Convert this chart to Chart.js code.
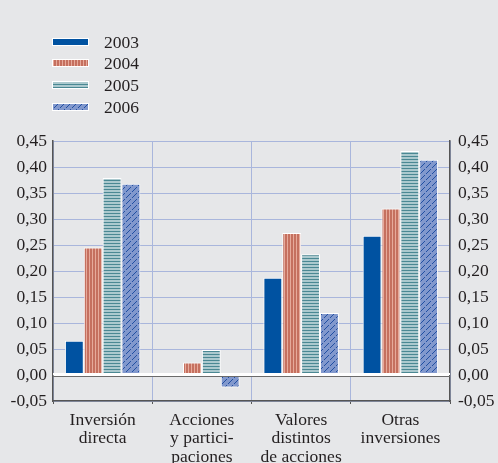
<!DOCTYPE html>
<html>
<head>
<meta charset="utf-8">
<script src="https://cdn.jsdelivr.net/npm/chart.js@4"></script>
<style>
  html, body { margin: 0; padding: 0; background: #e6e7e9; }
  canvas { display: block; }
</style>
</head>
<body>
<canvas id="myChart" width="498" height="463"></canvas>
<script>
// categories and series
const categories = [
  ['Inversión', 'directa'],
  ['Acciones', 'y partici-', 'paciones'],
  ['Valores', 'distintos', 'de acciones'],
  ['Otras', 'inversiones']
];
const years = ['2003', '2004', '2005', '2006'];
const values2003 = [0.066, 0, 0.187, 0.268];
const values2004 = [0.245, 0.024, 0.273, 0.320];
const values2005 = [0.379, 0.048, 0.232, 0.431];
const values2006 = [0.368, -0.024, 0.119, 0.414];

const FONT = "'Liberation Serif', 'Times New Roman', serif";
const GRID = '#a9b6dc';
const AXIS = '#555555';

// small tiles used as fill patterns
function makePattern(w, h, draw) {
  const c = document.createElement('canvas');
  c.width = w; c.height = h;
  const g = c.getContext('2d');
  draw(g);
  return g.createPattern(c, 'repeat');
}

const fill2003 = '#0052a1';
const fill2004 = makePattern(3, 1, g => {
  g.fillStyle = '#c5705f'; g.fillRect(0, 0, 2, 1);
  g.fillStyle = '#e6aa9b'; g.fillRect(2, 0, 1, 1);
});
const fill2005 = makePattern(1, 3, g => {
  g.fillStyle = '#abc9ce'; g.fillRect(0, 0, 1, 3);
  g.fillStyle = '#4a8893'; g.fillRect(0, 0, 1, 1);
});
const fill2006 = makePattern(6, 6, g => {
  g.fillStyle = '#8198cd'; g.fillRect(0, 0, 6, 6);
  g.fillStyle = '#2250a2';
  for (let i = 0; i < 5; i++) g.fillRect(i, 5 - i, 1, 1);
});
const fills = [fill2003, fill2004, fill2005, fill2006];
const series = [values2003, values2004, values2005, values2006];

const fmt = v => {
  const s = Math.abs(v).toFixed(2).replace('.', ',');
  return v < -1e-9 ? '-' + s : s;
};

// page background
const bgPlugin = {
  id: 'bg',
  beforeDraw(chart) {
    const ctx = chart.ctx;
    ctx.save();
    ctx.fillStyle = '#e6e7e9';
    ctx.fillRect(0, 0, chart.width, chart.height);
    ctx.restore();
  }
};

// white zero line with a dark line just under it
const zeroPlugin = {
  id: 'zero',
  afterDatasetsDraw(chart) {
    const {ctx, chartArea, scales} = chart;
    const y0 = scales.y.getPixelForValue(0);
    ctx.save();
    ctx.strokeStyle = '#ffffff';
    ctx.lineWidth = 2;
    ctx.beginPath();
    ctx.moveTo(chartArea.left, y0 - 1);
    ctx.lineTo(chartArea.right, y0 - 1);
    ctx.stroke();
    ctx.strokeStyle = '#6b6b6b';
    ctx.lineWidth = 1;
    ctx.beginPath();
    ctx.moveTo(chartArea.left, y0 + 1.5);
    ctx.lineTo(chartArea.right, y0 + 1.5);
    ctx.stroke();
    ctx.restore();
  }
};

// vertical legend in the top left corner
const legendPlugin = {
  id: 'vlegend',
  afterDraw(chart) {
    const ctx = chart.ctx;
    const rows = [42, 63, 85, 107];
    ctx.save();
    ctx.font = '17.5px ' + FONT;
    ctx.textBaseline = 'middle';
    chart.data.datasets.forEach((ds, i) => {
      const y = rows[i];
      ctx.fillStyle = ds.backgroundColor;
      ctx.fillRect(52, y - 4, 37, 8);
      ctx.strokeStyle = '#ffffff';
      ctx.lineWidth = 1;
      ctx.strokeRect(52.5, y - 3.5, 36, 7);
      ctx.fillStyle = '#231f20';
      ctx.fillText(ds.label, 104, y + 1);
    });
    ctx.restore();
  }
};

const yCommon = {
  type: 'linear',
  min: -0.05,
  max: 0.45,
  ticks: {
    stepSize: 0.05,
    callback: v => fmt(v),
    color: '#231f20',
    font: { family: FONT, size: 17.5 },
  },
  border: { color: AXIS, width: 1.5 }
};

new Chart(document.getElementById('myChart').getContext('2d'), {
  type: 'bar',
  data: {
    labels: categories,
    datasets: years.map((y, i) => ({
      label: y,
      data: series[i],
      backgroundColor: fills[i],
      borderColor: '#ffffff',
      borderWidth: 1,
      borderSkipped: false,
      categoryPercentage: 0.76,
      barPercentage: 1.0
    }))
  },
  options: {
    responsive: false,
    animation: false,
    devicePixelRatio: 1,
    layout: { padding: { top: 141, left: 0, right: 0, bottom: 0 } },
    plugins: {
      legend: { display: false },
      tooltip: { enabled: false }
    },
    scales: {
      x: {
        grid: {
          offset: true,
          color: GRID,
          tickColor: AXIS,
          tickLength: 3,
          lineWidth: 1
        },
        border: { color: AXIS, width: 1.5 },
        ticks: {
          color: '#231f20',
          padding: 7,
          maxRotation: 0,
          autoSkip: false,
          font: { family: FONT, size: 17.5, lineHeight: 1.06 }
        },
        afterFit: s => { s.height = 62; }
      },
      y: Object.assign({}, yCommon, {
        position: 'left',
        ticks: Object.assign({}, yCommon.ticks, { padding: 6 }),
        grid: {
          drawTicks: false,
          color: c => (Math.abs(c.tick.value) < 1e-9 ? '#ffffff' : GRID),
          lineWidth: c => (Math.abs(c.tick.value) < 1e-9 ? 2 : 1)
        },
        afterFit: s => { s.width = 53; }
      }),
      y2: Object.assign({}, yCommon, {
        position: 'right',
        ticks: Object.assign({}, yCommon.ticks, { padding: 8 }),
        grid: { drawTicks: false, drawOnChartArea: false },
        afterFit: s => { s.width = 48; }
      })
    }
  },
  plugins: [bgPlugin, zeroPlugin, legendPlugin]
});
</script>
</body>
</html>
